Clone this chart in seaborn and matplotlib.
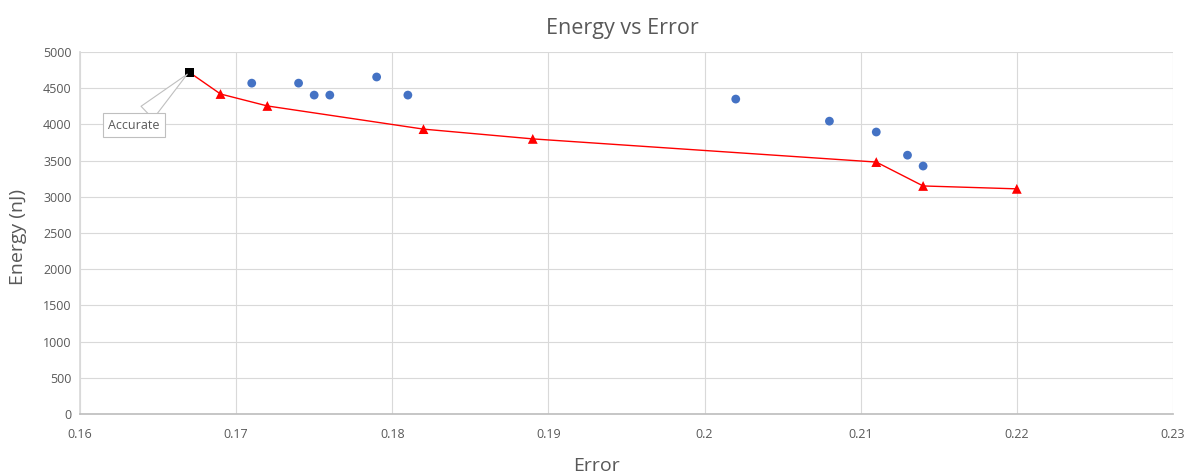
import matplotlib
matplotlib.use("Agg")
import matplotlib.pyplot as plt
import seaborn as sns
import pandas as pd

# Data
accurate_error = [0.167]
accurate_energy = [4720]

other_error = [0.171, 0.174, 0.175, 0.176, 0.179, 0.181, 0.202, 0.208, 0.211, 0.213, 0.214]
other_energy = [4570, 4570, 4405, 4405, 4655, 4405, 4350, 4045, 3895, 3575, 3425]

pareto_error = [0.169, 0.172, 0.182, 0.189, 0.211, 0.214, 0.220]
pareto_energy = [4420, 4255, 3935, 3800, 3480, 3150, 3110]

x_ticks = [0.16, 0.17, 0.18, 0.19, 0.20, 0.21, 0.22, 0.23]
x_tick_labels = ["0.16", "0.17", "0.18", "0.19", "0.2", "0.21", "0.22", "0.23"]
y_ticks = [0, 500, 1000, 1500, 2000, 2500, 3000, 3500, 4000, 4500, 5000]

sns.set_theme(style="white")
plt.rcParams['font.family'] = ['Open Sans', 'DejaVu Sans']

fig = plt.figure(figsize=(11.92, 4.75), dpi=100)
ax = fig.add_axes([0.0671, 0.1284, 0.9169, 0.7621])

grey_text = "#595959"
grid_c = "#d9d9d9"

line_df = pd.DataFrame({"Error": accurate_error + pareto_error,
                        "Energy": accurate_energy + pareto_energy})
sns.lineplot(data=line_df, x="Error", y="Energy", color="#ff0000", linewidth=1.0,
             ax=ax, sort=True, estimator=None, zorder=3)

other_df = pd.DataFrame({"Error": other_error, "Energy": other_energy})
sns.scatterplot(data=other_df, x="Error", y="Energy", color="#4472c4", s=40,
                marker="o", edgecolor="none", ax=ax, zorder=4)

pareto_df = pd.DataFrame({"Error": pareto_error, "Energy": pareto_energy})
sns.scatterplot(data=pareto_df, x="Error", y="Energy", color="#ff0000", s=50,
                marker="^", edgecolor="none", ax=ax, zorder=4)

acc_df = pd.DataFrame({"Error": accurate_error, "Energy": accurate_energy})
sns.scatterplot(data=acc_df, x="Error", y="Energy", color="black", s=40,
                marker="s", edgecolor="none", ax=ax, zorder=5)

ax.annotate("Accurate", xy=(accurate_error[0], accurate_energy[0]),
            xytext=(0.16346, 3990), ha="center", va="center",
            fontsize=9, color=grey_text,
            bbox=dict(boxstyle="square,pad=0.45", fc="white", ec="#bfbfbf", lw=0.8),
            arrowprops=dict(arrowstyle="wedge,tail_width=1.4,shrink_factor=0.5",
                            fc="white", ec="#bfbfbf", lw=0.8,
                            shrinkA=0, shrinkB=2),
            zorder=6)

ax.set_xlim(0.16, 0.23)
ax.set_ylim(0, 5000)
ax.set_xticks(x_ticks)
ax.set_xticklabels(x_tick_labels)
ax.set_yticks(y_ticks)
ax.tick_params(axis="both", length=0, labelsize=9, colors=grey_text, pad=6)
ax.tick_params(axis="x", pad=10)

ax.grid(True, color=grid_c, linewidth=0.8)
ax.set_axisbelow(True)
for side in ["top", "right"]:
    ax.spines[side].set_visible(False)
ax.spines["left"].set_color(grid_c)
ax.spines["bottom"].set_color("#bfbfbf")

ax.set_xlabel("Error", fontsize=14, color=grey_text)
ax.xaxis.set_label_coords(0.473, -0.144)
ax.xaxis.label.set_va("center")
ax.set_ylabel("Energy (nJ)", fontsize=14, color=grey_text)
ax.yaxis.set_label_coords(-0.057, 0.49)
ax.yaxis.label.set_va("center")
fig.text(0.522, 0.941, "Energy vs Error", fontsize=15.5, color=grey_text,
         ha="center", va="center")

fig.savefig("out.png", dpi=100)
